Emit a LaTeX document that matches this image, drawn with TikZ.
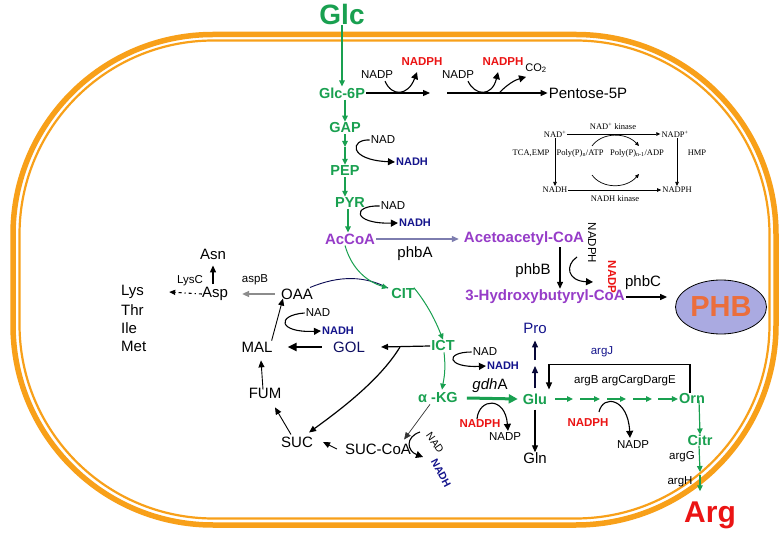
\documentclass[tikz,border=0pt]{standalone}
\usepackage{fontspec}
\setmainfont{Liberation Sans}
\newfontfamily\tms{Liberation Serif}
\usetikzlibrary{arrows.meta,shapes.geometric}
\newcommand\fsz[1]{\fontsize{#1}{#1}\selectfont}
\newcommand\cellpath[5]{(#1+#5,#3) -- (#2-#5,#3) arc[start angle=270,end angle=360,radius=#5] -- (#2,#4-#5) arc[start angle=0,end angle=90,radius=#5] -- (#1+#5,#4) arc[start angle=90,end angle=180,radius=#5] -- (#1,#3+#5) arc[start angle=180,end angle=270,radius=#5] -- cycle}
\definecolor{cg}{RGB}{25,160,80}
\definecolor{cp}{RGB}{150,60,200}
\definecolor{cr}{RGB}{235,20,20}
\definecolor{cn}{RGB}{20,20,140}
\definecolor{co}{RGB}{248,160,25}
\definecolor{cphb}{RGB}{170,170,225}
\definecolor{cphbt}{RGB}{235,110,60}
\definecolor{cgr}{RGB}{140,140,140}
\definecolor{cgb}{RGB}{125,125,175}
\begin{document}
\begin{tikzpicture}[x=1pt,y=-1pt,
  every node/.style={inner sep=1pt},
  met/.style={font=\fsz{15}},
  gm/.style={font=\fsz{14.5}\bfseries, text=cg},
  pm/.style={font=\fsz{15}\bfseries, text=cp},
  sm/.style={font=\fsz{11.5}},
  rd/.style={font=\fsz{11.5}\bfseries, text=cr},
  bl/.style={font=\fsz{11}\bfseries, text=cn},
  tm/.style={font=\tms\fsz{8.5}},
  arr/.style={-{Triangle[length=7pt,width=6pt]}, line width=1.2pt},
  garr/.style={-{Triangle[length=6pt,width=5.5pt]}, draw=cg, line width=1.2pt},
  cof/.style={-{Triangle[length=7pt,width=7pt]}, line width=1.1pt},
  sar/.style={-{Triangle[length=4pt,width=3.5pt]}, line width=0.7pt}]
\useasboundingbox[fill=white] (0,0) rectangle (784,534);
% membrane
\draw[co, line width=5.5pt] \cellpath{13}{776}{34.5}{525}{200};
\draw[co, line width=2.2pt] \cellpath{19.5}{769.5}{40.5}{518.5}{194};

% glucose and PPP
\node[gm, font=\fsz{28}\bfseries] (glc) at (342,14) {Glc};
\node[gm] (g6p) at (342,93) {Glc-6P};
\draw[garr] (glc) -- (g6p);
\coordinate (p1) at (438,93);
\node[met] (pent) at (588,93) {Pentose-5P};
\draw[arr] (g6p.east) -- ([xshift=-8]p1);
\draw[arr] ([xshift=9]p1) -- (pent.west);
\node[sm] (nadp1) at (377,75) {NADP};
\node[rd] (nadph1) at (422,62) {NADPH};
\node[sm] (nadp2) at (458,75) {NADP};
\node[rd] (nadph2) at (503,62) {NADPH};
\node[font=\fsz{11}] (co2) at (536,68) {CO\textsubscript{2}};
\draw[cof] ([xshift=8,yshift=-1]nadp1.south) .. controls (392,97) and (408,96) .. ([xshift=-5,yshift=-5]nadph1.south);
\draw[cof] ([xshift=10,yshift=-1]nadp2.south) .. controls (475,96) and (492,97) .. ([xshift=-5,yshift=-5]nadph2.south);
\draw[cof] (500,92) .. controls (508,84) and (515,80) .. ([xshift=-10,yshift=-3]co2.south);

% glycolysis
\node[gm] (gap) at (345,128) {GAP};
\draw[garr] (g6p.south -| gap.north) -- (gap.north);
\coordinate (gp1) at (345,147);
\node[gm] (pep) at (345,171) {PEP};
\draw[garr] (gap.south) -- (gp1);
\draw[garr] (gp1) -- (pep.north);
\node[sm] (nad1) at (383,140) {NAD};
\node[bl] (nadh1) at (412,162) {NADH};
\draw[cof] (nad1.west) .. controls (350,139) and (348,160) .. (nadh1.west);
\node[gm] (pyr) at (350,203) {PYR};
\draw[garr] (pep.south) -- (pep.south |- pyr.north);
\node[sm] (nad2) at (393,206) {NAD};
\node[bl] (nadh2) at (415,223) {NADH};
\draw[cof] (nad2.west) .. controls (352,205) and (352,224) .. (nadh2.west);
\node[pm] (accoa) at (350,239) {AcCoA};
\draw[garr] ([xshift=-2]pyr.south) -- ([xshift=-2]accoa.north);

% PHB branch
\node[pm] (aaca) at (524,239) {Acetoacetyl-CoA};
\draw[-{Triangle[length=7pt,width=6pt]}, draw=cgb, line width=1.2pt] (accoa.east) -- ([xshift=-4]aaca.west);
\node[met] (phba) at (415,254) {phbA};
\node[sm, rotate=-90] (nadph3) at (592,243) {NADPH};
\node[met] (phbb) at (533,271) {phbB};
\node[pm] (hbc) at (545,297) {3-Hydroxybutyryl-CoA};
\coordinate (xb) at (560,0);
\draw[arr] (aaca.south -| xb) -- (hbc.north -| xb);
\draw[cof] ([xshift=-15,yshift=-14]nadph3.center) .. controls (565,265) and (567,281) .. (593,282);
\node[rd, rotate=-90] (nadp3) at (612,277) {NADP};
\node[met] (phbc) at (643,283) {phbC};
\node[ellipse, draw, line width=0.8pt, fill=cphb, minimum width=91pt, minimum height=54pt, font=\fsz{29}\bfseries, text=cphbt] (phb) at (721,307) {PHB};
\draw[arr] (hbc.east) -- ([xshift=-8]hbc.east -| phb.west);

% TCA cycle
\node[gm] (cit) at (403,294) {CIT};
\node[met] (oaa) at (297,294) {OAA};
\draw[line width=0.9pt, draw=cn!60!black] ([xshift=-4]oaa.north east) .. controls (340,275) and (365,276) .. (388,288);
\draw[garr, line width=1pt] ([xshift=-5]accoa.south) .. controls (352,270) and (368,282) .. (388,288);
\node[gm] (ict) at (443,346) {ICT};
\draw[garr, line width=1pt] ([xshift=-2]cit.north east) .. controls (428,305) and (436,322) .. (ict.north);
\node[met, text=cn!70!black] (gol) at (349,347) {GOL};
\draw[arr] (ict.west) -- ([xshift=15]gol.east);
\node[met] (mal) at (257,347) {MAL};
\draw[-{Triangle[length=9pt,width=8pt]}, line width=2pt] ([xshift=-10]gol.west) -- ([xshift=14]mal.east);
\node[met] (suc) at (297,442) {SUC};
\coordinate (br) at (400,347);
\draw[arr] (br) .. controls (380,380) and (340,410) .. ([xshift=-5,yshift=3]suc.north east);
\draw[arr, line width=0.9pt] ([xshift=-2]mal.north east) -- ([xshift=3,yshift=2]oaa.south west);
\node[sm] (nad3) at (318,313) {NAD};
\node[bl] (nadh3) at (338,331) {NADH};
\draw[cof] (nad3.west) .. controls (276,315) and (278,333) .. (nadh3.west);
\node[met] (asp) at (215,294) {Asp};
\draw[-{Triangle[length=7pt,width=6pt]}, draw=cgr, line width=1.5pt] ([xshift=-5]oaa.west) -- ([xshift=13]asp.east);
\node[sm] (aspb) at (255,280) {aspB};
\node[met] (asn) at (213,254) {Asn};
\draw[arr] ([yshift=2]asp.north -| asn.south) -- ([yshift=-5]asn.south);
\node[sm] (lysc) at (190,281) {LysC};
\node[met, anchor=west] (lys) at (120,292) {Lys};
\node[met, anchor=west] (thr) at (120,310) {Thr};
\node[met, anchor=west] (ile) at (120,328) {Ile};
\node[met, anchor=west] (met) at (120,346) {Met};
\draw[-{Triangle[length=6pt,width=5pt]}, line width=1.1pt, dash pattern=on 3pt off 3pt on 1.2pt off 3pt] ([xshift=1]asp.west) -- ([xshift=24]lys.east);
\node[met] (fum) at (265,393) {FUM};
\draw[arr, line width=0.9pt] ([xshift=-2,yshift=-3]fum.north) -- ([xshift=4,yshift=-7]mal.south);
\draw[arr, line width=0.9pt] ([xshift=-6,yshift=1]suc.north) -- ([xshift=10,yshift=-8]fum.south);
\node[met] (succoa) at (378,449) {SUC-CoA};
\draw[arr, line width=0.9pt] ([xshift=-7]succoa.west) -- ([xshift=9]suc.east);
\node[gm] (akg) at (438,398) {α -KG};
\draw[garr, line width=1pt] ([xshift=1]ict.south) .. controls (446,370) and (444,378) .. ([xshift=4,yshift=2]akg.north);
\draw[arr, line width=0.7pt, draw=black!80] ([xshift=-8]akg.south) -- ([xshift=-8,yshift=3]succoa.north east);
\node[font=\fsz{10.5}, rotate=-55] (nad4) at (435,443) {NAD};
\node[font=\fsz{10.5}\bfseries, text=cn, rotate=-62] (nadh4) at (441,473) {NADH};
\draw[cof] (420,432) .. controls (405,437) and (407,451) .. (423,457);

% ICT -> aKG -> Glu
\node[sm] (nad5) at (485,352) {NAD};
\node[bl] (nadh5) at (503,366) {NADH};
\draw[cof] (nad5.west) .. controls (444,352) and (447,368) .. (nadh5.west);
\node[met] (gdha) at (490,386) {\textit{gdh}A};
\node[gm] (glu) at (535,399) {Glu};
\draw[-{Triangle[length=9pt,width=9pt]}, draw=cg, line width=3pt] ([xshift=8]akg.east) -- ([xshift=-4]glu.west);
\node[rd] (nadph5) at (480,424) {NADPH};
\node[sm] (nadp5) at (505,437) {NADP};
\draw[cof] ([xshift=-3]nadph5.north) .. controls (479,398) and (505,396) .. ([xshift=3,yshift=1]nadp5.north);
\node[met, text=cn] (pro) at (535,328) {Pro};
\coordinate (gp2) at (535,361);
\draw[arr, draw=cn!40!black] ([yshift=4]glu.north) -- ([yshift=-5]gp2);
\draw[arr, draw=cn!40!black] ([yshift=1]gp2) -- ([yshift=-6]pro.south);
\node[met] (gln) at (535,458) {Gln};
\draw[arr] ([yshift=-4]glu.south) -- ([yshift=-1]gln.north);

% arginine
\node[gm] (orn) at (692,399) {Orn};
\node[sm, text=cn] (argj) at (602,352) {argJ};
\draw[arr] ([xshift=-2]orn.north) -- ++(0,-28) -| ([xshift=14,yshift=3]glu.north);
\node[sm] (argbe) at (625,381) {argB argCargDargE};
\coordinate (c1) at (555,399);
\coordinate (c2) at (580,399);
\coordinate (c3) at (607,399);
\coordinate (c4) at (633,399);
\coordinate (c5) at (658,399);
\draw[garr] (c1) -- ++(18,0);
\draw[garr] (c2) -- ++(20,0);
\draw[garr] (c3) -- ++(19,0);
\draw[garr] (c4) -- ++(19,0);
\draw[garr] (c5) -- (orn.west);
\node[rd] (nadph6) at (588,423) {NADPH};
\node[sm] (nadp6) at (633,445) {NADP};
\draw[cof] (599,412) .. controls (603,394) and (628,398) .. ([xshift=-3,yshift=2]nadp6.north);
\node[gm] (citr) at (700,440) {Citr};
\draw[garr] ([xshift=7,yshift=5]orn.south) -- ([yshift=-1]citr.north);
\node[font=\fsz{30}\bfseries, text=cr] (arg) at (710,515) {Arg};
\coordinate (cg1) at (700,475);
\draw[garr] ([xshift=-1,yshift=1]citr.south) -- ([yshift=3]cg1);
\draw[garr] (cg1) -- ([xshift=-10,yshift=9]arg.north);
\node[sm] (argg) at (682,457) {argG};
\node[sm] (argh) at (680,482) {argH};

% NAD kinase scheme
\node[tm] (k1) at (555,134) {NAD\textsuperscript{+}};
\node[tm] (k2) at (675,134) {NADP\textsuperscript{+}};
\node[tm] (k3) at (555,190) {NADH};
\node[tm] (k4) at (677,190) {NADPH};
\draw[sar] (k1.east) -- (k2.west);
\draw[sar] (k3.east) -- (k4.west);
\draw[sar] (k1.south) -- (k3.north);
\draw[sar] (k2.south -| k4.north) -- (k4.north);
\node[tm] at (613,126) {NAD\textsuperscript{+} kinase};
\node[tm] at (615,199) {NADH kinase};
\node[tm] at (531,153) {TCA,EMP};
\node[tm] at (697,153) {HMP};
\node[tm] at (580,153) {Poly(P)\textsubscript{n}/ATP};
\node[tm] at (637,153) {Poly(P)\textsubscript{n-1}/ADP};
\draw[sar] (592,146) .. controls (602,132) and (626,132) .. (639,146);
\draw[sar] (592,175) .. controls (602,189) and (626,189) .. (639,174);
\end{tikzpicture}
\end{document}
